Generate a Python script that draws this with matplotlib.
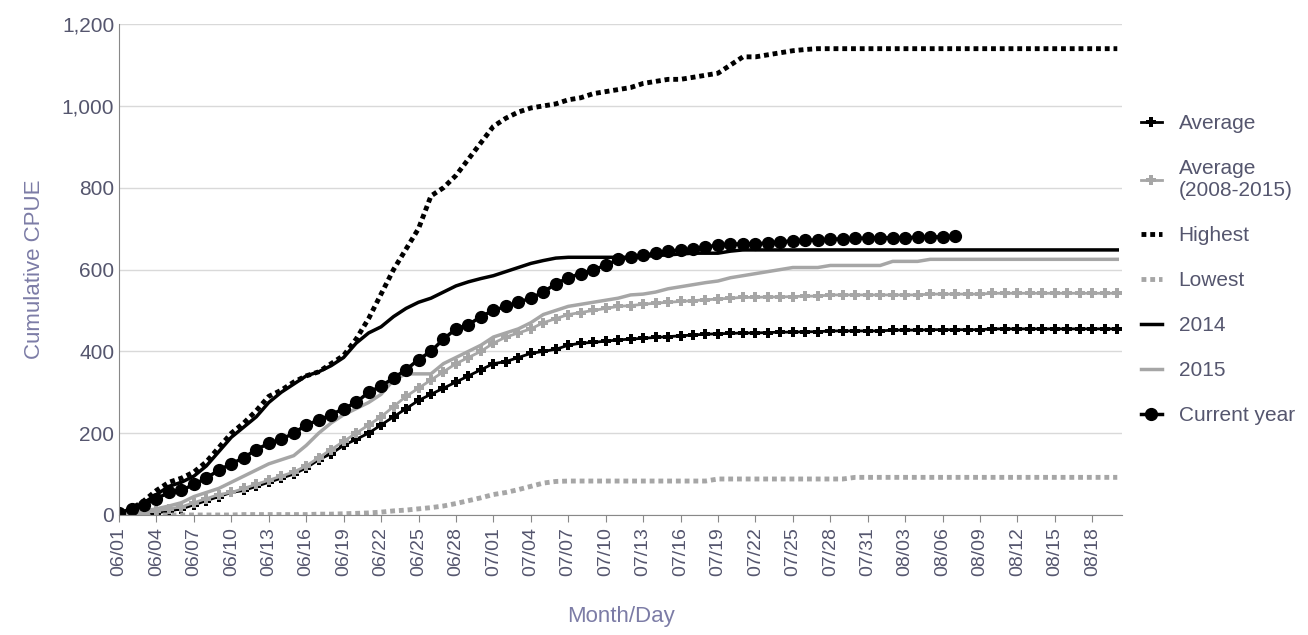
import matplotlib
matplotlib.use("Agg")
import matplotlib.pyplot as plt
import matplotlib.ticker as mt
import numpy as np
import datetime as dt

plt.rcParams['font.family'] = ['Liberation Sans', 'DejaVu Sans']

start = dt.date(2021, 6, 1)
n_days = 81
dates = [start + dt.timedelta(days=i) for i in range(n_days)]
labels = [d.strftime("%m/%d") for d in dates]

highest = [0,15,35,60,80,90,105,130,165,200,225,255,290,305,325,340,350,370,390,430,
           480,540,600,650,700,780,800,830,870,910,950,970,985,995,1000,1005,1015,1020,1030,1035,
           1040,1045,1055,1060,1065,1065,1070,1075,1080,1100,1120,1120,1125,1130,1135,1138,1140,1140,1140,1140,
           1140,1140,1140,1140,1140,1140,1140,1140,1140,1140,1140,1140,1140,1140,1140,1140,1140,1140,1140,1140,1140]
y2014 = [0,15,30,50,70,80,95,120,155,190,215,240,275,300,320,340,350,365,385,420,
         445,460,485,505,520,530,545,560,570,578,585,595,605,615,622,628,630,630,630,630,
         630,630,632,634,636,638,640,640,640,645,648,648,648,648,648,648,648,648,648,648,
         648,648,648,648,648,648,648,648,648,648,648,648,648,648,648,648,648,648,648,648,648]
current = [5,15,25,40,55,60,75,90,110,125,140,160,175,185,200,220,232,245,260,275,
           300,315,335,355,380,400,430,455,465,485,500,510,520,530,545,565,580,590,600,610,
           625,630,635,640,645,648,650,655,660,662,663,663,665,668,670,672,672,674,675,676,
           677,678,678,678,679,680,680,682]
y2015 = [0,5,10,15,22,30,45,55,65,80,95,110,125,135,145,170,200,225,245,260,
         275,295,330,345,345,345,370,385,400,415,435,445,455,470,490,500,510,515,520,525,
         530,538,540,545,553,558,563,568,572,580,585,590,595,600,605,605,605,610,610,610,
         610,610,620,620,620,625,625,625,625,625,625,625,625,625,625,625,625,625,625,625,625]
avg0815 = [0,3,6,10,15,20,30,40,50,55,65,75,85,95,105,120,140,160,180,200,
           220,240,265,290,310,330,350,370,385,400,420,435,445,455,470,480,490,495,500,505,
           510,512,515,518,520,522,524,526,528,530,532,532,533,533,534,535,535,538,538,538,
           538,538,538,538,538,540,540,540,540,540,542,542,542,542,542,542,542,542,542,542,542]
average = [0,2,3,5,10,15,25,35,45,55,60,70,80,90,100,115,135,150,170,185,
           200,220,240,260,280,295,310,325,340,355,370,375,385,395,400,405,415,420,422,425,
           428,430,432,434,436,438,440,442,443,444,445,445,446,447,447,448,448,450,450,450,
           450,450,452,452,452,453,453,453,453,453,455,455,455,455,455,455,455,455,455,455,455]
lowest = [0,0,0,0,0,0,0,0,0,0,1,1,1,1,1,1,2,2,3,4,
          5,7,10,12,15,18,22,28,35,42,50,55,62,70,78,82,83,83,83,83,
          83,83,83,83,83,83,83,83,88,88,88,88,88,88,88,88,88,88,88,92,
          92,92,92,92,92,92,92,92,92,92,92,92,92,92,92,92,92,92,92,92,92]

fig = plt.figure(figsize=(13.08, 6.35), dpi=100)
ax = fig.add_axes([0.091, 0.189, 0.767, 0.773])
x = np.arange(n_days)
gray = "#a6a6a6"
ax.plot(x, average, color="black", lw=2, marker="P", ms=7, mew=0, label="Average")
ax.plot(x, avg0815, color=gray, lw=2, marker="P", ms=7, mew=0, label="Average\n(2008-2015)")
ax.plot(x, highest, color="black", lw=3.5, ls=(0, (1, 0.8)), label="Highest")
ax.plot(x, lowest, color=gray, lw=3.5, ls=(0, (1, 0.8)), label="Lowest")
ax.plot(x, y2014, color="black", lw=2.5, label="2014")
ax.plot(x, y2015, color=gray, lw=2.5, label="2015")
ax.plot(np.arange(len(current)), current, color="black", lw=2.5, marker="o", ms=8.5, label="Current year")

tc = "#55566e"
ax.set_xlim(0, n_days - 0.6)
ax.set_ylim(0, 1200)
ax.set_xticks(x[::3])
ax.set_xticklabels(labels[::3], rotation=90, fontsize=14, color=tc)
ax.yaxis.set_major_formatter(mt.FuncFormatter(lambda v, p: f"{int(v):,}"))
ax.set_yticks(range(0, 1201, 200))
ax.tick_params(axis="y", labelsize=15, colors=tc, length=0)
ax.tick_params(axis="x", length=5, color="#888888")
ax.grid(axis="y", color="#d9d9d9", lw=1)
ax.set_axisbelow(True)
for s in ["top", "right"]:
    ax.spines[s].set_visible(False)
ax.spines["left"].set_color("#888888")
ax.spines["bottom"].set_color("#888888")
ax.set_xlabel("Month/Day", fontsize=16, color="#7c7ca6", labelpad=22)
ax.set_ylabel("Cumulative CPUE", fontsize=16, color="#7c7ca6", labelpad=12)
ax.legend(loc="center left", bbox_to_anchor=(1.0, 0.5), frameon=False, fontsize=15,
          labelcolor=tc, handlelength=1.0, labelspacing=1.25)
fig.savefig("out.png")
